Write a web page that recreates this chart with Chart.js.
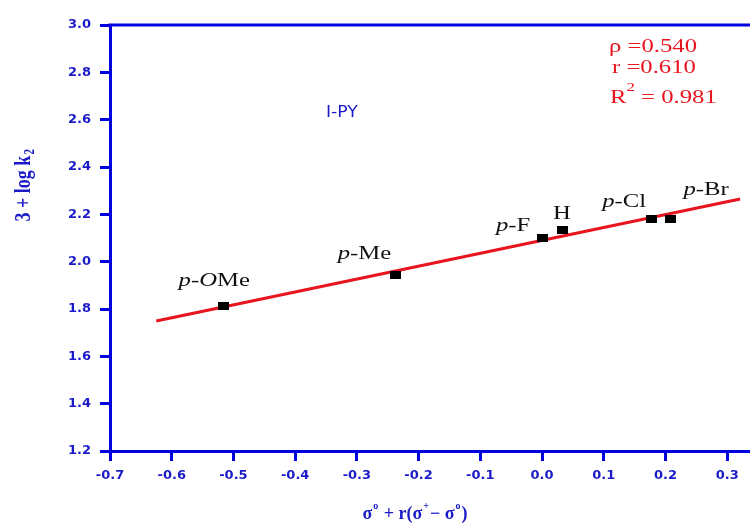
<!DOCTYPE html>
<html><head><meta charset="utf-8">
<script src="https://cdn.jsdelivr.net/npm/chart.js@4/dist/chart.umd.min.js"></script>
<style>html,body{margin:0;padding:0;background:#fff}#wrap{width:750px;height:523px}</style>
</head><body><div id="wrap"><canvas id="c" width="750" height="523"></canvas></div>
<script>
const substituents = ['p-OMe','p-Me','p-F','H','p-Cl','p-Br'];
const sigmaValues = [-0.516, -0.237, 0.000, 0.034, 0.177, 0.208];
const logK = [1.813, 1.944, 2.100, 2.134, 2.182, 2.180];
const fitX = [-0.625, 0.321];
const fitY = [1.749, 2.265];
const xTicks = [-0.7,-0.6,-0.5,-0.4,-0.3,-0.2,-0.1,0.0,0.1,0.2,0.3];
const yTicks = [1.2,1.4,1.6,1.8,2.0,2.2,2.4,2.6,2.8,3.0];
const statsLines = ['ρ =0.540','r =0.610','R² = 0.981'];
const seriesName = 'I-PY';

const BLUE = '#0000e0';
const TXT = '#1a1ac8';
const RED = '#e8141e';
const SX = 1.3; // horizontal stretch of annotation text

// label offsets from points (px): [dx to label left, dy to label middle]
const labelOff = [[-45,-25],[-58,-21],[-46,-12],[-10,-16],[-49,-17],[13,-29]];

function stretchedText(ctx, parts, x, y, sx){
  ctx.save();
  ctx.translate(x, y); ctx.scale(sx, 1);
  let cx=0;
  for (const [s,f,dy] of parts){
    ctx.font=f; ctx.fillText(s, cx, dy||0);
    cx+=ctx.measureText(s).width;
  }
  ctx.restore();
}

function labelParts(txt, size){
  const n=size+'px "Liberation Serif", serif', it='italic '+n;
  if (txt.startsWith('p-')) {
    const rest=txt.slice(2);
    const p=[['p',it],['-',n]];
    if (rest==='OMe') { p.push(['O',it]); p.push(['Me',n]); } else p.push([rest,n]);
    return p;
  }
  return [[txt,n]];
}

const textPlugin = {
  id:'texts',
  afterDraw(chart){
    const ctx=chart.ctx, ca=chart.chartArea, xs=chart.scales.x, ys=chart.scales.y;
    ctx.save();
    ctx.strokeStyle=BLUE; ctx.lineWidth=3;
    ctx.beginPath(); ctx.moveTo(ca.left-1.5, ca.top); ctx.lineTo(750, ca.top); ctx.stroke();
    ctx.textBaseline='middle'; ctx.textAlign='left';
    ctx.fillStyle='#111';
    substituents.forEach((s,i)=>{
      const px=xs.getPixelForValue(sigmaValues[i]), py=ys.getPixelForValue(logK[i]);
      stretchedText(ctx, labelParts(s,19), px+labelOff[i][0], py+labelOff[i][1], SX);
    });
    ctx.fillStyle=TXT;
    stretchedText(ctx, [[seriesName,'15px "DejaVu Sans", sans-serif']], 326, 113, 1.15);
    ctx.fillStyle=RED;
    const rf='19px "Liberation Serif", serif', sf='13px "Liberation Serif", serif';
    stretchedText(ctx, [[statsLines[0],rf]], 609, 47, SX);
    stretchedText(ctx, [[statsLines[1],rf]], 612, 68, SX);
    const r2=statsLines[2].split('²');
    stretchedText(ctx, [[r2[0],rf],['2',sf,-10],[' '+r2[1].trim(),rf]], 610, 98, SX);
    ctx.fillStyle=TXT;
    ctx.save();
    ctx.translate(24, 185); ctx.rotate(-Math.PI/2); ctx.scale(1, 1.25);
    ctx.font='bold 18px "Liberation Serif", serif';
    const yt='3 + log k'; const wyt=ctx.measureText(yt).width;
    const sx=-(wyt+7)/2;
    ctx.fillText(yt, sx, 0);
    ctx.font='bold 11px "Liberation Serif", serif';
    ctx.fillText('2', sx+wyt+1, 5);
    ctx.restore();
    ctx.textBaseline='alphabetic';
    const segs=[['σ','n'],['o','s'],[' + r(σ','n'],['+','s'],['− σ','n'],['o','s'],[')','n']];
    const fN='bold 18px "Liberation Serif", serif', fS='bold 10px "Liberation Serif", serif';
    let tw=0;
    segs.forEach(([s,t])=>{ctx.font=t==='n'?fN:fS; tw+=ctx.measureText(s).width+(t==='s'?2:0);});
    let cx=415-tw/2; const by=519;
    segs.forEach(([s,t])=>{
      ctx.font=t==='n'?fN:fS;
      ctx.fillText(s, cx+(t==='s'?1:0), t==='n'?by:by-10);
      cx+=ctx.measureText(s).width+(t==='s'?2:0);
    });
    ctx.restore();
  }
};

const marker=document.createElement('canvas');
marker.width=11; marker.height=8;
{ const m=marker.getContext('2d'); m.fillStyle='#000'; m.fillRect(0,0,11,8); }

new Chart(document.getElementById('c'), {
  type:'scatter',
  data:{ datasets:[
    { label:'data', data: sigmaValues.map((x,i)=>({x, y:logK[i]})),
      pointStyle:marker, radius:6, hoverRadius:6, order:0 },
    { label:'fit', type:'line', data: fitX.map((x,i)=>({x, y:fitY[i]})),
      borderColor:RED, borderWidth:3, pointRadius:0, fill:false, order:1 }
  ]},
  options:{
    responsive:false, animation:false, devicePixelRatio:1,
    layout:{autoPadding:false, padding:{top:25,right:0,left:0,bottom:0}},
    plugins:{legend:{display:false}, tooltip:{enabled:false}},
    scales:{
      x:{ type:'linear', min:-0.7, max:0.337,
        afterBuildTicks:(s)=>{s.ticks=xTicks.map(v=>({value:v}));},
        afterFit:(s)=>{s.height=72; s.paddingRight=0; s.paddingLeft=0;},
        ticks:{ color:TXT, font:{family:'"DejaVu Sans", sans-serif', size:13, weight:'bold'}, padding:7,
          callback:(v)=>v.toFixed(1), maxRotation:0, autoSkip:false },
        grid:{ drawOnChartArea:false, color:BLUE, lineWidth:3, tickLength:10 },
        border:{ color:BLUE, width:3 }
      },
      y:{ type:'linear', min:1.2, max:3.0,
        afterBuildTicks:(s)=>{s.ticks=yTicks.map(v=>({value:v}));},
        afterFit:(s)=>{s.width=110;},
        ticks:{ color:TXT, font:{family:'"DejaVu Sans", sans-serif', size:13, weight:'bold'}, padding:9,
          callback:(v)=>v.toFixed(1), autoSkip:false },
        grid:{ drawOnChartArea:false, color:BLUE, lineWidth:3, tickLength:10 },
        border:{ color:BLUE, width:3 }
      }
    }
  },
  plugins:[textPlugin]
});
</script>
</body></html>
